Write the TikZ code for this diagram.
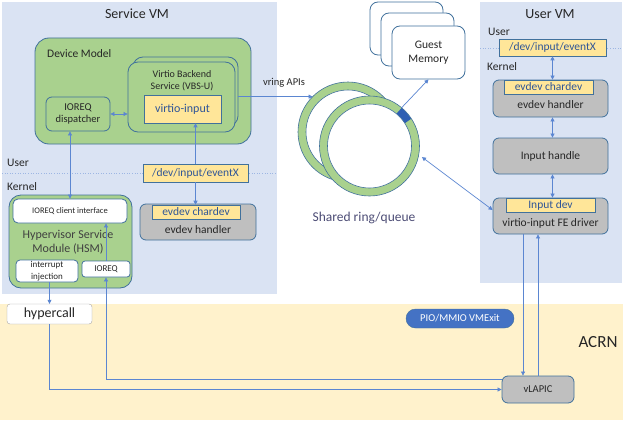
\documentclass[tikz,border=0pt]{standalone}
\usepackage{fontspec}
\setmainfont{Carlito}
\usetikzlibrary{arrows.meta}

\definecolor{vmblue}{HTML}{DAE3F3}
\definecolor{acrnyellow}{HTML}{FFF2CC}
\definecolor{boxgreen}{HTML}{A9D18E}
\definecolor{boxyellow}{HTML}{FFE699}
\definecolor{boxgray}{HTML}{BFBFBF}
\definecolor{edgeblue}{HTML}{41719C}
\definecolor{linkblue}{HTML}{5B86D1}
\definecolor{pillblue}{HTML}{4472C4}
\definecolor{txtblue}{HTML}{2F5597}
\definecolor{txtdark}{HTML}{262626}
\definecolor{segblue}{HTML}{2F5FB3}

\newcommand{\fs}[1]{\fontsize{#1}{#1}\selectfont}

\tikzset{
	greenbox/.style={draw=edgeblue, fill=boxgreen, line width=0.8pt, rounded corners=10pt},
	graybox/.style={draw=edgeblue, fill=boxgray, line width=0.8pt, rounded corners=6pt, font=\fs{11.5}},
	yellowbox/.style={draw=edgeblue, fill=boxyellow, line width=0.6pt, text=txtblue, font=\fs{11.5}},
	whitebox/.style={draw=edgeblue, fill=white, line width=0.8pt, rounded corners=5pt},
	ringnode/.style={circle, draw=edgeblue, line width=0.6pt, outer sep=0pt},
	link/.style={draw=linkblue, line width=0.7pt},
	tip/.style={-{Triangle[length=4pt,width=4pt]}},
	tips/.style={{Triangle[length=4pt,width=4pt]}-{Triangle[length=4pt,width=4pt]}},
	sep/.style={draw=linkblue!60, dotted, line width=0.6pt}
}

\begin{document}
\begin{tikzpicture}[x=1pt, y=-1pt, every node/.style={inner sep=0pt, text=txtdark}]
		\useasboundingbox (0,0) rectangle (642,420);
		
		% areas
		\fill[vmblue] (2,2) rectangle (277,294);
		\fill[vmblue] (480,2) rectangle (622,283);
		\fill[acrnyellow] (0,304) rectangle (623,420);
		\draw[sep] (2,173) -- (277,173);
		\draw[sep] (480,48) -- (622,48);
		
		\node (svmtitle) at (137,14) [font=\fs{14}] {Service VM};
		\node (uvmtitle) at (550,14) [font=\fs{14}] {User VM};
		\node (acrn) at (598,342) [font=\fs{17}] {ACRN};
		\node (suser) at (7,163) [anchor=west, font=\fs{11.5}] {User};
		\node (skernel) at (7,187) [anchor=west, font=\fs{11.5}] {Kernel};
		\node (uuser) at (488,32) [anchor=west, font=\fs{11.5}] {User};
		\node (ukernel) at (487,67) [anchor=west, font=\fs{11.5}] {Kernel};
		
		% device model
		\node (dm) at (143,91) [greenbox, minimum width=216, minimum height=106, rounded corners=14pt] {};
		\node (dmlabel) at (47,54) [anchor=west, font=\fs{11.5}] {Device Model};
		\node (vbsb) at (185.5,91.5) [greenbox, minimum width=105, minimum height=69] {};
		\node (vbsf) at (181.5,97) [greenbox, minimum width=107, minimum height=70] {};
		\node (vbstext) at (182,81) [align=center, font=\fontsize{10}{12}\selectfont] {Virtio Backend\\Service (VBS-U)};
		\node (vin) at (182.5,109) [yellowbox, minimum width=77, minimum height=28, font=\fs{12}] {virtio-input};
		\node (disp) at (78,114) [greenbox, minimum width=64, minimum height=34, rounded corners=6pt, align=center, font=\fontsize{10.5}{12}\selectfont] {IOREQ\\dispatcher};
		\draw[link, tips] (disp.east) -- (disp.east -| vbsf.west);
		
		% service vm kernel
		\node (sevx) at (195.5,173) [yellowbox, minimum width=105, minimum height=18] {/dev/input/eventX};
		\node (sevh) at (198,222) [graybox, minimum width=116, minimum height=36] {};
		\node (sevch) at (196,212) [yellowbox, minimum width=88, minimum height=14] {evdev chardev};
		\node (sevhtext) at (198,230) [font=\fs{11.5}] {evdev handler};
		\draw[link, tip] (sevx.north) -- (sevx.north |- vin.south);
		\draw[link, tip] (sevx.south) -- (sevx.south |- sevch.north);
		
		\node (hsm) at (70.5,241.5) [greenbox, minimum width=123, minimum height=93, rounded corners=12pt] {};
		\node (cli) at (70,211) [whitebox, minimum width=114, minimum height=24, font=\fs{8.5}] {IOREQ client interface};
		\node (hsmtext) at (68,242) [align=center, text=black!75, font=\fontsize{12}{14}\selectfont] {Hypervisor Service\\Module (HSM)};
		\node (inj) at (47,271) [whitebox, minimum width=62, minimum height=22, rounded corners=4pt, align=center, font=\fontsize{9}{11.5}\selectfont] {interrupt\\injection};
		\node (ioreq) at (106,269) [whitebox, minimum width=48, minimum height=16, rounded corners=3pt, font=\fs{9}] {IOREQ};
		\draw[link, tips] (cli.north) -- (cli.north |- disp.south);
		\draw[link, tip] (ioreq.north) -- (ioreq.north |- cli.south);
		
		% shared ring and guest memory
		\node (ringb) at (348,132) [ringnode, fill=boxgreen, minimum size=100pt] {};
		\node (ringbin) at (ringb.center) [ringnode, fill=white, minimum size=84pt] {};
		\node (ringf) at (369.5,146) [ringnode, fill=boxgreen, minimum size=100pt] {};
		\node (ringfin) at (ringf.center) [ringnode, fill=white, minimum size=84pt] {};
		\draw[segblue, line width=7.4pt] ([shift={(33:46pt)}]ringf.center) arc[start angle=33, end angle=50, radius=46pt];
		\node (ringlbl) at (364,218) [text=black!60!blue!40!gray, font=\fs{13.5}] {Shared ring/queue};
		
		\foreach \n/\x/\y in {gm3/406.5/28.5, gm2/417.5/39.5} {
			\node (\n) at (\x,\y) [whitebox, minimum width=73, minimum height=53, rounded corners=8pt] {};
		}
		\node (gm1) at (428.5,52.5) [whitebox, minimum width=73, minimum height=53, rounded corners=8pt, align=center, font=\fontsize{11.5}{14}\selectfont] {Guest\\Memory};
		
		\node (vringlbl) at (284,83) [font=\fs{10.5}] {vring APIs};
		\draw[link, tip] (vbsb.east |- ringb.135) -- (ringb.135);
		\draw[link, tip] (ringf.50) -- (gm1.south);
		
		% user vm
		\node (uevx) at (552.5,47.5) [yellowbox, minimum width=107, minimum height=17] {/dev/input/eventX};
		\node (uevh) at (550.5,98.5) [graybox, minimum width=115, minimum height=37] {};
		\node (uevch) at (548.5,87) [yellowbox, minimum width=89, minimum height=14] {evdev chardev};
		\node (uevhtext) at (550.5,105) [font=\fs{11.5}] {evdev handler};
		\node (uinh) at (550.5,156) [graybox, minimum width=115, minimum height=36] {Input handle};
		\node (fe) at (550.5,216) [graybox, minimum width=115, minimum height=36] {};
		\node (feindev) at (550.5,205) [yellowbox, minimum width=89, minimum height=14] {Input dev};
		\node (fetext) at (550.5,223) [font=\fs{11.5}] {virtio-input FE driver};
		\draw[link, tips] (uevx.south) -- (uevx.south |- uevh.north);
		\draw[link, tips] (uevh.south -| uevx.south) -- (uinh.north -| uevx.south);
		\draw[link, tips] (uinh.south -| uevx.south) -- (fe.north -| uevx.south);
		\draw[link, tips, shorten <=4pt] (ringf.-10) -- ([yshift=6pt]fe.west);
		
		% acrn
		\node (vmexit) at (460,318.5) [draw=edgeblue, fill=pillblue, rounded corners=9.5pt, minimum width=108, minimum height=19, text=white, font=\fs{10.5}] {PIO/MMIO VMExit};
		\node (hyp) at (49.5,314) [draw=black!35, fill=white, rounded corners=3pt, minimum width=85, minimum height=20, font=\fs{14}] {hypercall};
		\node (vl) at (538,389.5) [graybox, minimum width=72, minimum height=27, font=\fs{10.5}] {vLAPIC};
		
		\draw[link, tip] (hyp.north |- inj.south) -- (hyp.north);
		\draw[link, tip] (hyp.south) |- (vl.west);
		\draw[link, tip] ([yshift=10pt]vl.west) -| (ioreq.south);
		\draw[link, tip] ([xshift=-15pt]vl.north |- fe.south) -- ([xshift=-15pt]vl.north);
		\draw[link, tip] (vl.north) -- (vl.north |- fe.south);
		
	\end{tikzpicture}
\end{document}
